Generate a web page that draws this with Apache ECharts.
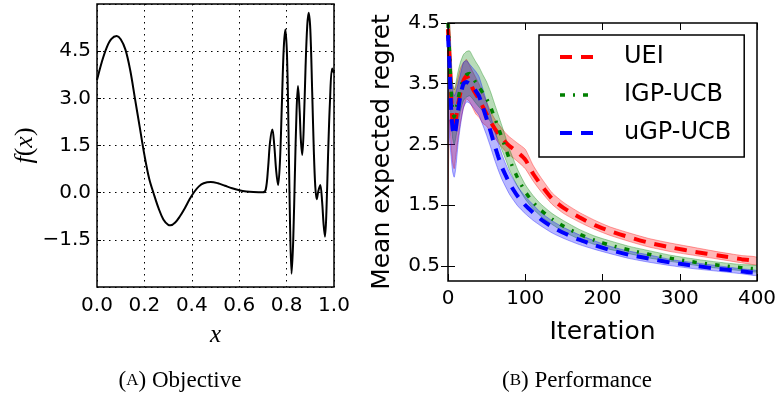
<!DOCTYPE html>
<html><head><meta charset="utf-8">
<script src="https://cdn.jsdelivr.net/npm/echarts@6/dist/echarts.min.js"></script>
<style>html,body{margin:0;padding:0;background:#fff}#c{width:781px;height:398px}</style>
</head><body><div id="c"></div>
<script>
// ---- (A) Objective ----
const objX = [0.00,0.02,0.04,0.06,0.083,0.10,0.12,0.14,0.16,0.18,0.20,0.22,0.24,0.26,0.28,0.30,0.31,0.33,0.35,0.37,0.39,0.41,0.43,0.45,0.48,0.51,0.54,0.57,0.60,0.63,0.66,0.70,0.712,0.722,0.730,0.740,0.748,0.756,0.764,0.772,0.780,0.788,0.795,0.802,0.808,0.814,0.821,0.828,0.835,0.842,0.848,0.855,0.860,0.866,0.872,0.880,0.887,0.893,0.900,0.908,0.915,0.921,0.927,0.934,0.942,0.950,0.956,0.962,0.968,0.975,0.983,0.992,1.00];
const objY = [3.58,4.15,4.6,4.88,4.98,4.88,4.55,3.9,3.0,2.1,1.2,0.45,-0.05,-0.5,-0.85,-1.02,-1.04,-0.95,-0.75,-0.5,-0.22,0.02,0.2,0.3,0.34,0.3,0.22,0.14,0.08,0.04,0.02,0.01,0.1,0.8,1.6,2.01,1.5,0.7,0.24,1.0,2.8,4.6,5.19,4.3,2.0,-0.8,-2.58,-1.5,0.6,2.6,3.39,2.6,1.7,1.2,2.0,4.0,5.3,5.72,5.2,3.2,1.3,0.2,-0.21,0.05,0.24,-0.3,-1.0,-1.4,-0.6,1.2,2.9,3.95,3.8];
const objXTicks = [0,0.2,0.4,0.6,0.8,1.0];
const objYTicks = [-1.5,0,1.5,3.0,4.5];

// ---- (B) Performance ----
const iterations = [0,2,4,6,8,10,13,16,20,24,28,32,36,40,45,50,55,60,65,70,75,80,90,100,110,120,135,150,170,190,210,235,260,290,320,350,380,400];
const ueiMean  = [4.4,3.9,3.3,2.85,2.75,2.9,3.15,3.35,3.55,3.63,3.55,3.42,3.33,3.25,3.12,3.0,2.88,2.77,2.68,2.6,2.53,2.47,2.37,2.25,2.02,1.84,1.6,1.45,1.3,1.17,1.07,0.97,0.88,0.8,0.73,0.67,0.61,0.58];
const ueiLower = [1.75,2.9,2.5,2.2,2.1,2.3,2.6,2.85,3.1,3.25,3.2,3.1,3.0,2.95,2.85,2.8,2.7,2.62,2.53,2.45,2.38,2.32,2.22,2.1,1.9,1.73,1.51,1.36,1.22,1.1,1.0,0.9,0.81,0.73,0.67,0.61,0.55,0.52];
const ueiUpper = [4.7,4.6,4.0,3.5,3.4,3.45,3.6,3.75,3.85,3.9,3.8,3.7,3.6,3.5,3.35,3.2,3.05,2.93,2.84,2.76,2.68,2.62,2.52,2.42,2.16,1.96,1.7,1.54,1.38,1.25,1.14,1.04,0.95,0.87,0.8,0.73,0.67,0.64];
const igpMean  = [4.5,4.0,3.4,3.05,2.95,3.05,3.25,3.42,3.58,3.65,3.67,3.6,3.52,3.45,3.35,3.25,3.12,2.95,2.78,2.6,2.42,2.24,1.95,1.72,1.55,1.42,1.27,1.15,1.02,0.92,0.84,0.76,0.69,0.62,0.56,0.51,0.47,0.45];
const igpLower = [3.9,3.5,2.9,2.6,2.5,2.6,2.85,3.05,3.22,3.28,3.3,3.25,3.18,3.12,3.05,2.97,2.87,2.72,2.57,2.4,2.24,2.07,1.81,1.6,1.44,1.32,1.18,1.06,0.94,0.85,0.77,0.7,0.63,0.57,0.51,0.46,0.42,0.4];
const igpUpper = [4.8,4.5,3.9,3.5,3.4,3.5,3.7,3.85,3.98,4.03,4.04,3.95,3.86,3.78,3.65,3.53,3.37,3.18,2.99,2.8,2.6,2.41,2.09,1.84,1.66,1.52,1.36,1.24,1.1,0.99,0.91,0.82,0.75,0.67,0.61,0.56,0.52,0.5];
const ugpMean  = [4.3,3.8,3.1,2.75,2.65,2.75,3.05,3.3,3.5,3.53,3.5,3.45,3.38,3.3,3.12,2.92,2.72,2.5,2.3,2.12,1.98,1.85,1.65,1.5,1.38,1.27,1.14,1.04,0.93,0.84,0.76,0.68,0.62,0.55,0.5,0.45,0.41,0.38];
const ugpLower = [3.2,2.6,2.3,2.05,1.96,2.1,2.5,2.8,3.1,3.2,3.18,3.12,3.05,2.98,2.82,2.65,2.46,2.26,2.08,1.92,1.79,1.67,1.49,1.36,1.25,1.16,1.04,0.95,0.85,0.77,0.7,0.62,0.56,0.5,0.45,0.41,0.37,0.34];
const ugpUpper = [4.6,4.3,3.8,3.4,3.3,3.35,3.5,3.65,3.85,3.88,3.82,3.76,3.7,3.62,3.42,3.2,2.98,2.75,2.53,2.33,2.17,2.03,1.81,1.64,1.51,1.38,1.24,1.13,1.01,0.91,0.82,0.74,0.68,0.6,0.55,0.5,0.45,0.42];
const perfXTicks = [0,100,200,300,400];
const perfYTicks = [0.5,1.5,2.5,3.5,4.5];
const seriesNames = ['UEI','IGP-UCB','uGP-UCB'];

const FONT = 'DejaVu Sans';
const Y_MIN = 0.25, Y_MAX = 4.5;
const zip = (xs, ys) => xs.map((x, i) => [x, ys[i]]);
const fmtMinus = v => (v < 0 ? '\u2212' : '') + Math.abs(v).toFixed(1);
const clampY = v => Math.max(Y_MIN, Math.min(Y_MAX, v));

const chart = echarts.init(document.getElementById('c'), null, {renderer: 'canvas'});

const tickLabel = {color: '#000', fontFamily: FONT, fontSize: 20};

const perfSets = [
  {name: seriesNames[0], mean: ueiMean, lower: ueiLower, upper: ueiUpper, color: '#ff0000', band: 'rgba(255,0,0,0.28)', edge: 'rgba(255,0,0,0.35)', line: {width: 4, type: [12, 9]}},
  {name: seriesNames[1], mean: igpMean, lower: igpLower, upper: igpUpper, color: '#008000', band: 'rgba(0,128,0,0.28)', edge: 'rgba(0,128,0,0.35)', line: {width: 3.5, type: [5, 8, 2, 8]}},
  {name: seriesNames[2], mean: ugpMean, lower: ugpLower, upper: ugpUpper, color: '#0000ff', band: 'rgba(0,0,255,0.28)', edge: 'rgba(0,0,255,0.35)', line: {width: 4, type: [12, 9]}}
];

const series = [{
  type: 'line', xAxisIndex: 0, yAxisIndex: 0, data: zip(objX, objY),
  showSymbol: false, symbol: 'none', smooth: 0.35,
  lineStyle: {color: '#000', width: 2}, silent: true, z: 3
}];

perfSets.forEach((s, k) => {
  series.push({
    type: 'custom', name: s.name + ' band', xAxisIndex: 1, yAxisIndex: 1, silent: true, clip: true, z: 1,
    data: iterations.map((it, i) => [it, s.lower[i], s.upper[i]]),
    encode: {x: 0, y: [1, 2]},
    renderItem: function (params, api) {
      if (params.dataIndex !== 0) return null;
      const pts = [];
      for (let i = 0; i < iterations.length; i++) pts.push(api.coord([iterations[i], clampY(s.upper[i])]));
      for (let i = iterations.length - 1; i >= 0; i--) pts.push(api.coord([iterations[i], clampY(s.lower[i])]));
      return {type: 'polygon', shape: {points: pts, smooth: 0.2}, style: {fill: s.band, stroke: s.edge, lineWidth: 1}};
    }
  });
});
perfSets.forEach((s, k) => {
  series.push({
    type: 'line', name: s.name, xAxisIndex: 1, yAxisIndex: 1,
    data: zip(iterations, s.mean), symbol: 'none', showSymbol: false, smooth: 0.2,
    lineStyle: Object.assign({color: s.color}, s.line), itemStyle: {color: 'rgba(0,0,0,0)'},
    silent: true, z: 3 + k
  });
});

const option = {
  animation: false,
  backgroundColor: '#fff',
  grid: [
    {left: 97, top: 4, width: 237, height: 283, show: true, borderColor: '#000', borderWidth: 1.5, backgroundColor: 'transparent', z: 5},
    {left: 448, top: 23, width: 309, height: 258, show: true, borderColor: '#000', borderWidth: 1.5, backgroundColor: 'transparent', z: 5}
  ],
  xAxis: [
    {gridIndex: 0, type: 'value', min: 0, max: 1, interval: 0.2, position: 'bottom',
     axisLine: {show: false}, axisTick: {show: true, inside: true, length: 4, lineStyle: {color: '#000'}},
     axisLabel: Object.assign({margin: 9, formatter: v => v.toFixed(1)}, tickLabel),
     splitLine: {show: true, lineStyle: {color: '#000', width: 1, type: [1.5, 4.5]}},
     name: '{i|x}', nameLocation: 'middle', nameGap: 36,
     nameTextStyle: {rich: {i: {fontFamily: 'Liberation Serif', fontStyle: 'italic', fontSize: 25, color: '#000'}}}},
    {gridIndex: 1, type: 'value', min: 0, max: 400, interval: 100, position: 'bottom',
     axisLine: {show: false}, axisTick: {show: true, inside: true, length: 7, lineStyle: {color: '#000', width: 1}},
     axisLabel: Object.assign({margin: 8}, tickLabel), splitLine: {show: false},
     name: 'Iteration', nameLocation: 'middle', nameGap: 39,
     nameTextStyle: {color: '#000', fontFamily: FONT, fontSize: 25}},
    {gridIndex: 1, type: 'value', min: 0, max: 400, interval: 100, position: 'top',
     axisLine: {show: false}, axisTick: {show: true, inside: true, length: 7, lineStyle: {color: '#000', width: 1}},
     axisLabel: {show: false}, splitLine: {show: false}}
  ],
  yAxis: [
    {gridIndex: 0, type: 'value', min: -3, max: 6, interval: 1.5,
     axisLine: {show: false}, axisTick: {show: true, inside: true, length: 4, lineStyle: {color: '#000'}},
     axisLabel: Object.assign({margin: 6, showMinLabel: false, showMaxLabel: false, formatter: fmtMinus}, tickLabel),
     splitLine: {show: true, lineStyle: {color: '#000', width: 1, type: [1.5, 4.5]}},
     name: '{i|f}{n|(}{i|x}{n|)}', nameLocation: 'middle', nameGap: 56, nameRotate: 90,
     nameTextStyle: {rich: {
       i: {fontFamily: 'Liberation Serif', fontStyle: 'italic', fontSize: 26, color: '#000'},
       n: {fontFamily: 'Liberation Serif', fontSize: 26, color: '#000'}}}},
    {gridIndex: 1, type: 'value', min: Y_MIN, max: Y_MAX,
     axisLine: {show: false},
     axisTick: {show: true, inside: true, length: 7, customValues: perfYTicks, lineStyle: {color: '#000', width: 1}},
     axisLabel: Object.assign({margin: 8, customValues: perfYTicks, formatter: v => v.toFixed(1)}, tickLabel),
     splitLine: {show: false},
     name: 'Mean expected regret', nameLocation: 'middle', nameGap: 53, nameRotate: 90,
     nameTextStyle: {color: '#000', fontFamily: FONT, fontSize: 25}},
    {gridIndex: 1, type: 'value', min: Y_MIN, max: Y_MAX, position: 'right',
     axisLine: {show: false},
     axisTick: {show: true, inside: true, length: 7, customValues: perfYTicks, lineStyle: {color: '#000', width: 1}},
     axisLabel: {show: false}, splitLine: {show: false}}
  ],
  legend: {
    data: perfSets.map(s => ({name: s.name, lineStyle: {width: s.line.width, type: s.line.type, color: s.color}})),
    orient: 'vertical', left: 539, top: 35,
    padding: [10, 13, 12, 19], itemGap: 14, itemWidth: 33, itemHeight: 14,
    backgroundColor: '#fff', borderColor: '#000', borderWidth: 1.5, borderRadius: 0,
    itemStyle: {opacity: 0},
    textStyle: {color: '#000', fontFamily: FONT, fontSize: 24, lineHeight: 24, padding: [0, 0, 0, 26]},
    selectedMode: false, z: 10
  },
  graphic: [
    {type: 'text', x: 180, y: 381, silent: true, style: {
      text: '{a|(}{b|A}{a|) Objective}', align: 'center', verticalAlign: 'middle',
      rich: {a: {fontFamily: 'Liberation Serif', fontSize: 23, fill: '#000'}, b: {fontFamily: 'Liberation Serif', fontSize: 17, fill: '#000'}}}},
    {type: 'text', x: 577, y: 381, silent: true, style: {
      text: '{a|(}{b|B}{a|) Performance}', align: 'center', verticalAlign: 'middle',
      rich: {a: {fontFamily: 'Liberation Serif', fontSize: 23, fill: '#000'}, b: {fontFamily: 'Liberation Serif', fontSize: 17, fill: '#000'}}}}
  ],
  series: series
};
chart.setOption(option);
</script>
</body></html>
